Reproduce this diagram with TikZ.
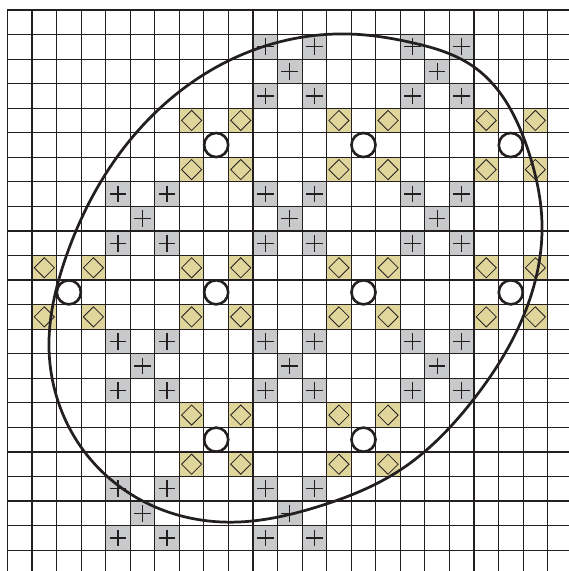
\documentclass[tikz,border=0pt]{standalone}
\usetikzlibrary{calc, hobby}
\definecolor{clrline}{HTML}{231F20}
\definecolor{clrplus}{HTML}{C8C9CB}
\definecolor{clrdiamond}{HTML}{E0D69C}

\begin{document}
\begin{tikzpicture}[
    x=6mm, y=-6mm,
    gridline/.style={draw=clrline, line width=0.8pt},
    pluscell/.style={fill=clrplus},
    diamondcell/.style={fill=clrdiamond},
    plusmark/.style={draw=clrline, line width=0.9pt},
    diamondmark/.style={draw=clrline, line width=0.55pt},
    hole/.style={draw=clrline, fill=white, line width=1.8pt},
    outline/.style={draw=clrline, line width=1.9pt},
]
\useasboundingbox (-0.305,-0.407) rectangle (22.87,22.85);

% shaded cells
\foreach \cx/\cy in {11/2,17/2,5/8,11/8,17/8,5/14,11/14,17/14,5/20,11/20} {
    \foreach \dx/\dy in {-1/-1,1/-1,0/0,-1/1,1/1}
        \fill[pluscell] (\cx+\dx,\cy+\dy) rectangle ++(1,1);
}
\foreach \cx/\cy in {8/5,14/5,20/5,2/11,8/11,14/11,20/11,8/17,14/17} {
    \foreach \dx/\dy in {-1/-1,1/-1,-1/1,1/1}
        \fill[diamondcell] (\cx+\dx,\cy+\dy) rectangle ++(1,1);
}

% grid
\foreach \i in {0,...,22} {
    \draw[gridline] (\i,0) -- (\i,22.85);
    \draw[gridline] (0,\i) -- (22.87,\i);
}

% marks
\foreach \cx/\cy in {11/2,17/2,5/8,11/8,17/8,5/14,11/14,17/14,5/20,11/20} {
    \foreach \dx/\dy in {-1/-1,1/-1,0/0,-1/1,1/1} {
        \draw[plusmark] (\cx+\dx+0.16,\cy+\dy+0.5) -- ++(0.68,0);
        \draw[plusmark] (\cx+\dx+0.5,\cy+\dy+0.16) -- ++(0,0.68);
    }
}
\foreach \cx/\cy in {8/5,14/5,20/5,2/11,8/11,14/11,20/11,8/17,14/17} {
    \foreach \dx/\dy in {-1/-1,1/-1,-1/1,1/1}
        \draw[diamondmark] (\cx+\dx+0.5,\cy+\dy+0.09) -- ++(0.41,0.41)
            -- ++(-0.41,0.41) -- ++(-0.41,-0.41) -- cycle;
}

% closed curve
\draw[outline, use Hobby shortcut, closed=true]
    (13.95,0.98) .. (16.52,1.34) .. (19.0,2.32) .. (21.2,5.70) .. (21.77,8.68)
    .. (21.16,12.10) .. (18.96,15.89) .. (15.99,18.74) .. (12.61,20.24)
    .. (9.19,20.86) .. (6.33,20.37) .. (3.08,17.92) .. (1.69,13.73)
    .. (2.34,10.18) .. (4.99,5.30) .. (9.06,2.04);

% holes
\foreach \cx/\cy in {8/5,14/5,20/5,2/11,8/11,14/11,20/11,8/17,14/17}
    \draw[hole] (\cx+0.5,\cy+0.5) circle[radius=0.49];
\end{tikzpicture}
\end{document}
